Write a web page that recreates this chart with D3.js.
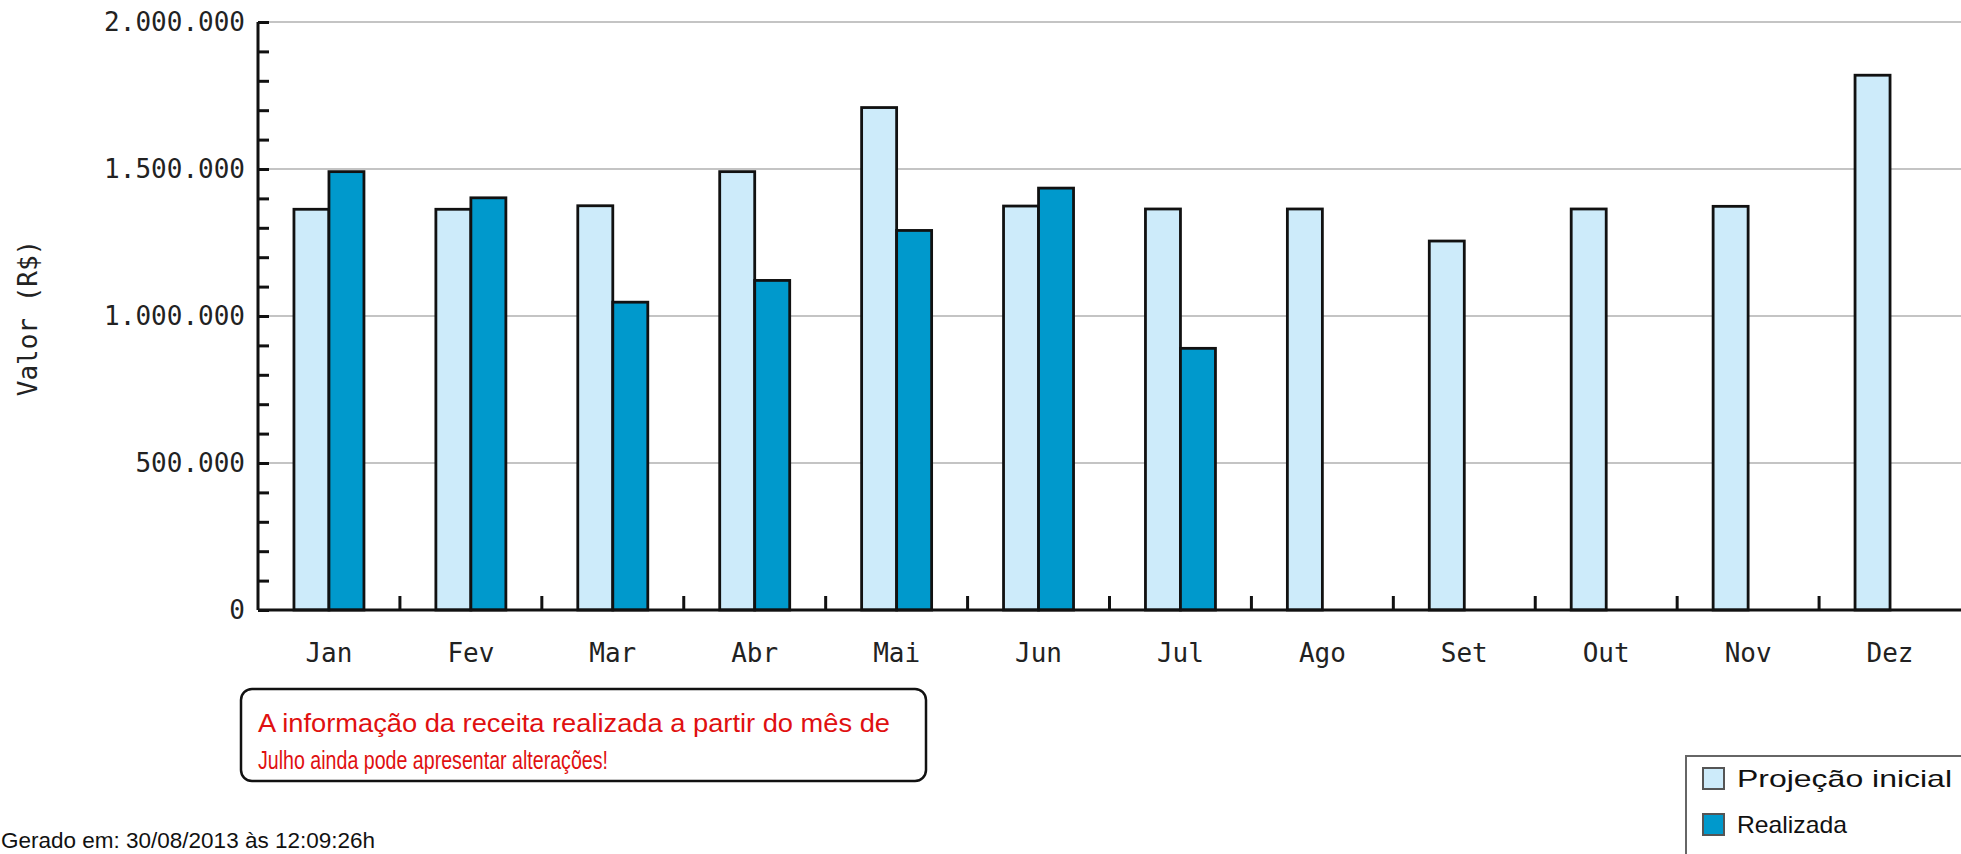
<!DOCTYPE html>
<meta charset="utf-8">
<head>
    <script type="text/javascript" src="https://d3js.org/d3.v7.min.js"></script>
    <style>
        body { margin: 0; background: #fff; }
        .mono { font-family: "DejaVu Sans Mono", "Liberation Mono", monospace; }
        .sans { font-family: "Liberation Sans", Arial, sans-serif; }
    </style>
    <title>Receita</title>
</head>
<body>
<script>

    // data
    var months = ["Jan", "Fev", "Mar", "Abr", "Mai", "Jun", "Jul", "Ago", "Set", "Out", "Nov", "Dez"];
    var series = ["Projeção inicial", "Realizada"];
    var projecao = [1363000, 1363000, 1375000, 1491000, 1709000, 1374000, 1364000, 1364000, 1255000, 1364000, 1373000, 1819000];
    var realizada = [1491000, 1402000, 1047000, 1121000, 1291000, 1435000, 890000, null, null, null, null, null];
    var yTicks = [0, 500000, 1000000, 1500000, 2000000];
    var colors = ["#cdebfa", "#0099cc"];

    var noteLines = ["A informação da receita realizada a partir do mês de",
                     "Julho ainda pode apresentar alterações!"];
    var footer = "Gerado em: 30/08/2013 às 12:09:26h";

    var W = 1961, H = 854;
    var margin = {top: 22, right: 0, bottom: 244, left: 258};
    var width = W - margin.left - margin.right;
    var height = H - margin.top - margin.bottom;

    var svg = d3.select("body").append("svg")
        .attr("width", W)
        .attr("height", H);

    var g = svg.append("g")
        .attr("transform", "translate(" + margin.left + "," + margin.top + ")");

    var ptBR = d3.formatLocale({decimal: ",", thousands: ".", grouping: [3], currency: ["R$", ""]});
    var fmt = ptBR.format(",");

    var x = d3.scaleBand().domain(months).range([0, width]);
    var bw = 35;
    var x1 = d3.scaleBand().domain(series)
        .range([x.bandwidth() / 2 - bw, x.bandwidth() / 2 + bw]);
    var y = d3.scaleLinear().domain([0, 2000000]).range([height, 0]);

    // gridlines
    g.selectAll(".grid").data(yTicks.filter(d => d > 0)).enter()
        .append("line")
        .attr("x1", 0).attr("x2", width)
        .attr("y1", d => y(d)).attr("y2", d => y(d))
        .attr("stroke", "#c4c4c4").attr("stroke-width", 2);

    // bars
    var rows = months.map((m, i) => ({m: m, vals: [projecao[i], realizada[i]]}));
    var grp = g.selectAll(".grp").data(rows).enter().append("g")
        .attr("transform", d => "translate(" + x(d.m) + ",0)");
    grp.selectAll("rect")
        .data(d => d.vals.map((v, j) => ({s: series[j], v: v, j: j})).filter(d => d.v != null))
        .enter().append("rect")
        .attr("x", d => x1(d.s))
        .attr("width", x1.bandwidth())
        .attr("y", d => y(d.v))
        .attr("height", d => y(0) - y(d.v))
        .attr("fill", d => colors[d.j])
        .attr("stroke", "#111")
        .attr("stroke-width", 2.8);

    // y axis
    var yAxis = d3.axisRight(y).tickValues(d3.range(0, 2000001, 100000))
        .tickSize(11).tickFormat("");
    var ya = g.append("g").call(yAxis);
    ya.select(".domain").remove();
    ya.selectAll("line").attr("stroke", "#111").attr("stroke-width", 3);
    g.append("line").attr("x1", 0).attr("x2", 0).attr("y1", 0).attr("y2", height)
        .attr("stroke", "#111").attr("stroke-width", 3);

    g.selectAll(".ylab").data(yTicks).enter().append("text")
        .attr("class", "mono")
        .attr("x", -13).attr("y", d => y(d))
        .attr("dy", "0.36em")
        .attr("text-anchor", "end")
        .attr("font-size", 26)
        .attr("fill", "#222")
        .text(d => fmt(d));

    // x axis
    g.append("line").attr("x1", 0).attr("x2", width).attr("y1", height).attr("y2", height)
        .attr("stroke", "#111").attr("stroke-width", 3);
    g.selectAll(".xtick").data(months.slice(1)).enter().append("line")
        .attr("x1", d => x(d)).attr("x2", d => x(d))
        .attr("y1", height).attr("y2", height - 14)
        .attr("stroke", "#111").attr("stroke-width", 3);
    g.selectAll(".xlab").data(months).enter().append("text")
        .attr("class", "mono")
        .attr("x", d => x(d) + x.bandwidth() / 2)
        .attr("y", height + 43)
        .attr("dy", "0.36em")
        .attr("text-anchor", "middle")
        .attr("font-size", 26)
        .attr("fill", "#222")
        .text(d => d);

    // y title
    svg.append("text")
        .attr("class", "mono")
        .attr("transform", "translate(28,318) rotate(-90)")
        .attr("dy", "0.36em")
        .attr("text-anchor", "middle")
        .attr("font-size", 26)
        .attr("fill", "#222")
        .text("Valor (R$)");

    // note box
    svg.append("rect")
        .attr("x", 241).attr("y", 689).attr("width", 685).attr("height", 92)
        .attr("rx", 11).attr("ry", 11)
        .attr("fill", "#fff").attr("stroke", "#111").attr("stroke-width", 2.5);
    svg.selectAll(".note").data(noteLines).enter().append("text")
        .attr("class", "sans")
        .attr("x", 258)
        .attr("y", (d, i) => 732 + i * 37)
        .attr("font-size", 26)
        .attr("fill", "#e01010")
        .attr("textLength", (d, i) => i == 0 ? 632 : 350)
        .attr("lengthAdjust", "spacingAndGlyphs")
        .text(d => d);

    // legend
    var lg = svg.append("g").attr("transform", "translate(1686,756)");
    lg.append("rect").attr("x", 0).attr("y", 0).attr("width", 290).attr("height", 120)
        .attr("fill", "#fff").attr("stroke", "#666").attr("stroke-width", 2);
    var li = lg.selectAll(".li").data(series).enter().append("g")
        .attr("transform", (d, i) => "translate(17," + (12 + i * 46) + ")");
    li.append("rect").attr("width", 21).attr("height", 21)
        .attr("fill", (d, i) => colors[i]).attr("stroke", "#555").attr("stroke-width", 2);
    li.append("text")
        .attr("class", "sans")
        .attr("x", 34).attr("y", 10.5).attr("dy", "0.36em")
        .attr("font-size", 24)
        .attr("fill", "#111")
        .attr("textLength", (d, i) => i == 0 ? 215 : 110)
        .attr("lengthAdjust", "spacingAndGlyphs")
        .text(d => d);

    // footer
    svg.append("text")
        .attr("class", "sans")
        .attr("x", 1).attr("y", 848)
        .attr("font-size", 22)
        .attr("fill", "#111")
        .attr("textLength", 374)
        .attr("lengthAdjust", "spacingAndGlyphs")
        .text(footer);

</script>
</body>
</html>
